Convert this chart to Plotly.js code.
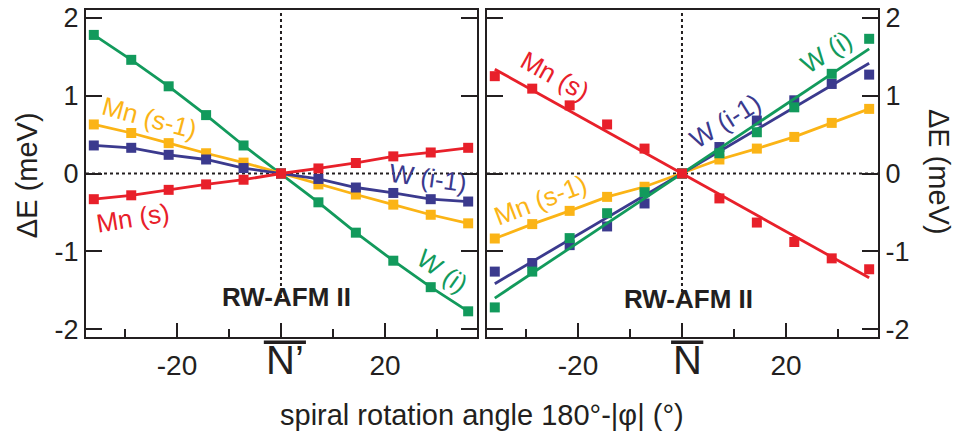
<!DOCTYPE html>
<html>
<head>
<meta charset="utf-8">
<script src="https://cdn.plot.ly/plotly-3.0.1.min.js"></script>
<style>html,body{margin:0;padding:0;background:#fff;}#chart{width:960px;height:432px;}</style>
</head>
<body>
<div id="chart"></div>
<script>
// spiral rotation angle 180°-|phi| (degrees)
const angles = [-36, -28.8, -21.6, -14.4, -7.2, 0, 7.2, 14.4, 21.6, 28.8, 36];

// Left panel (N')
const wiLeft    = [1.78, 1.46, 1.12, 0.75, 0.36, 0, -0.37, -0.76, -1.12, -1.46, -1.77];
const mns1Left  = [0.63, 0.52, 0.39, 0.26, 0.14, 0, -0.14, -0.27, -0.40, -0.53, -0.64];
const wim1Left  = [0.36, 0.33, 0.24, 0.18, 0.07, 0, -0.07, -0.18, -0.25, -0.33, -0.36];
const mnsLeft   = [-0.33, -0.28, -0.21, -0.14, -0.08, 0, 0.065, 0.135, 0.22, 0.27, 0.33];

// Right panel (N)
const mnsRight  = [1.25, 1.09, 0.875, 0.63, 0.32, 0, -0.32, -0.63, -0.88, -1.09, -1.23];
const wiRight   = [-1.72, -1.26, -0.83, -0.51, -0.24, 0, 0.26, 0.53, 0.85, 1.28, 1.73];
const wim1Right = [-1.26, -1.15, -0.92, -0.68, -0.385, 0, 0.34, 0.68, 0.94, 1.15, 1.27];
const mns1Right = [-0.835, -0.65, -0.48, -0.30, -0.17, 0, 0.18, 0.32, 0.47, 0.65, 0.83];

// Linear fits (right panel)
const fitX        = [-36, 36];
const fitWiRight  = [-1.6, 1.6];
const fitWim1Right= [-1.415, 1.415];
const fitMnsRight = [1.34, -1.34];

const yTickVals = [-2, -1, 0, 1, 2];
const yTickText = ['-2', '-1', '0', '1', '2'];
const xTickVals = [-20, 0, 20];
const xTickText = ['-20', '', '20'];
const xMinorVals = [-30, -10, 10, 30];

const RED = '#e8202a', GREEN = '#129a5c', BLUE = '#3b3a8e', ORANGE = '#fbb416', INK = '#231f20';
const FONT = '"Liberation Sans", Arial, Helvetica, sans-serif';

function lm(x, y, color, xa, ya) {
  return {x: x, y: y, xaxis: xa, yaxis: ya, type: 'scatter', mode: 'lines+markers',
    line: {color: color, width: 2.8}, marker: {symbol: 'square', size: 10, color: color}};
}
function mk(x, y, color, xa, ya) {
  return {x: x, y: y, xaxis: xa, yaxis: ya, type: 'scatter', mode: 'markers',
    marker: {symbol: 'square', size: 10, color: color}};
}
function ln(x, y, color, xa, ya) {
  return {x: x, y: y, xaxis: xa, yaxis: ya, type: 'scatter', mode: 'lines',
    line: {color: color, width: 2.8}};
}

const data = [
  lm(angles, wiLeft, GREEN, 'x', 'y'),
  lm(angles, mns1Left, ORANGE, 'x', 'y'),
  lm(angles, wim1Left, BLUE, 'x', 'y'),
  lm(angles, mnsLeft, RED, 'x', 'y'),
  lm(angles, mns1Right, ORANGE, 'x2', 'y2'),
  ln(fitX, fitWim1Right, BLUE, 'x2', 'y2'),
  mk(angles, wim1Right, BLUE, 'x2', 'y2'),
  ln(fitX, fitWiRight, GREEN, 'x2', 'y2'),
  mk(angles, wiRight, GREEN, 'x2', 'y2'),
  ln(fitX, fitMnsRight, RED, 'x2', 'y2'),
  mk(angles, mnsRight, RED, 'x2', 'y2')
];

function xax(domain, anchor) {
  return {domain: domain, anchor: anchor, range: [-37.5, 37.7],
    tickvals: xTickVals, ticktext: xTickText, ticks: 'inside', ticklen: 14, tickwidth: 2, tickcolor: INK,
    minor: {tickvals: xMinorVals, ticks: 'inside', ticklen: 8, tickwidth: 2, tickcolor: INK},
    showline: true, linewidth: 2, linecolor: INK, mirror: true, showgrid: false, zeroline: false,
    tickfont: {family: FONT, size: 28, color: INK}, ticklabelstandoff: 2, fixedrange: true};
}
function yax(anchor, side) {
  return {anchor: anchor, side: side, domain: [0, 1], range: [-2.1, 2.1],
    tickvals: yTickVals, ticktext: yTickText, ticks: 'inside', ticklen: 16, tickwidth: 2, tickcolor: INK,
    showline: true, linewidth: 2, linecolor: INK, mirror: 'ticks', showgrid: false, zeroline: false,
    tickfont: {family: FONT, size: 27, color: INK}, fixedrange: true};
}

const dotted = {color: INK, width: 2, dash: 'dot'};
const shapes = [
  {type: 'line', xref: 'x', yref: 'y', x0: -37.5, x1: 37.7, y0: 0, y1: 0, line: dotted, layer: 'below'},
  {type: 'line', xref: 'x', yref: 'y', x0: 0, x1: 0, y0: -1.6, y1: 2.1, line: dotted, layer: 'below'},
  {type: 'line', xref: 'x2', yref: 'y2', x0: -37.5, x1: 37.7, y0: 0, y1: 0, line: dotted, layer: 'below'},
  {type: 'line', xref: 'x2', yref: 'y2', x0: 0, x1: 0, y0: -1.6, y1: 2.1, line: dotted, layer: 'below'},
  {type: 'line', xref: 'x', yref: 'paper', x0: -3.3, x1: 4.8, y0: -0.016, y1: -0.016, line: {color: INK, width: 3.5}},
  {type: 'line', xref: 'x2', yref: 'paper', x0: -2.1, x1: 4.1, y0: -0.016, y1: -0.016, line: {color: INK, width: 3.5}}
];

function lab(text, xref, yref, x, y, color, angle) {
  return {text: text, xref: xref, yref: yref, x: x, y: y, showarrow: false, textangle: angle,
    font: {family: FONT, size: 26, color: color}, xanchor: 'center', yanchor: 'middle'};
}

const annotations = [
  lab('Mn (s-1)', 'x', 'y', -25.2, 0.71, ORANGE, 15),
  lab('W (i-1)', 'x', 'y', 28.3, -0.06, BLUE, 8),
  lab('Mn (s)', 'x', 'y', -28.5, -0.57, RED, -9),
  lab('W (i)', 'x', 'y', 31, -1.25, GREEN, 35),
  lab('Mn (s)', 'x2', 'y2', -24.4, 1.25, RED, 29),
  lab('W (i-1)', 'x2', 'y2', 8.3, 0.68, BLUE, -32),
  lab('W (i)', 'x2', 'y2', 27.8, 1.56, GREEN, -33),
  lab('Mn (s-1)', 'x2', 'y2', -27.2, -0.34, ORANGE, -21),
  {text: '<b>RW-AFM II</b>', xref: 'x', yref: 'paper', x: 1, y: 0.07, showarrow: false,
    font: {family: FONT, size: 26, color: INK}},
  {text: '<b>RW-AFM II</b>', xref: 'x2', yref: 'paper', x: 1.2, y: 0.064, showarrow: false,
    font: {family: FONT, size: 26, color: INK}},
  {text: 'N’', xref: 'x', yref: 'paper', x: 0.8, y: -0.07, showarrow: false, yanchor: 'middle',
    font: {family: FONT, size: 40, color: INK}},
  {text: 'N', xref: 'x2', yref: 'paper', x: 1.0, y: -0.07, showarrow: false, yanchor: 'middle',
    font: {family: FONT, size: 40, color: INK}},
  {text: 'spiral rotation angle 180°-|φ| (°)', xref: 'paper', yref: 'paper', x: 0.5, y: -0.2385,
    showarrow: false, xanchor: 'center', yanchor: 'middle', font: {family: FONT, size: 29, color: INK}},
  {text: 'ΔE (meV)', xref: 'paper', yref: 'paper', x: -0.0745, y: 0.495, textangle: -90,
    showarrow: false, xanchor: 'center', yanchor: 'middle', font: {family: FONT, size: 29, color: INK}},
  {text: 'ΔE (meV)', xref: 'paper', yref: 'paper', x: 1.077, y: 0.505, textangle: 90,
    showarrow: false, xanchor: 'center', yanchor: 'middle', font: {family: FONT, size: 29, color: INK}}
];

const layout = {
  width: 960, height: 432,
  margin: {l: 86, r: 82, t: 10, b: 95},
  paper_bgcolor: '#ffffff', plot_bgcolor: '#ffffff',
  showlegend: false, hovermode: false,
  xaxis: xax([0, 0.4937], 'y'),
  xaxis2: xax([0.5063, 1], 'y2'),
  yaxis: yax('x', 'left'),
  yaxis2: yax('x2', 'right'),
  shapes: shapes,
  annotations: annotations,
  font: {family: FONT, color: INK}
};

Plotly.newPlot('chart', data, layout, {staticPlot: true, displayModeBar: false});
</script>
</body>
</html>
